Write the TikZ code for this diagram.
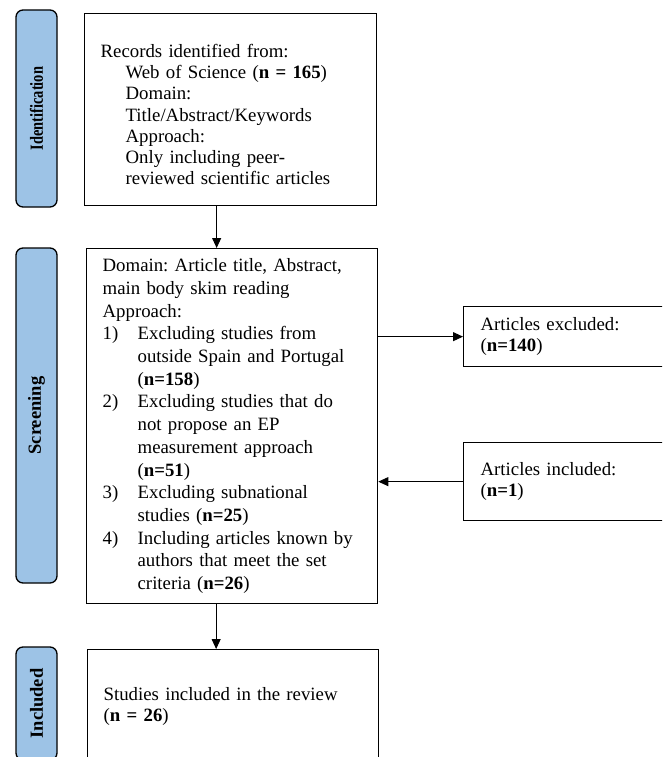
\documentclass[tikz,border=0pt]{standalone}
\usepackage{fontspec}
\setmainfont{Liberation Serif}
\usetikzlibrary{arrows.meta, calc, positioning}
\frenchspacing

\definecolor{pillblue}{HTML}{9DC3E6}
\newcommand{\listnum}[1]{\makebox[35pt][l]{#1}}
\newcommand{\listpad}{\hspace*{35pt}}
\newcommand{\subpad}{\hspace*{25pt}}

\begin{document}
\begin{tikzpicture}[x=1pt, y=-1pt,
    stage/.style={draw, line width=1.3pt, rounded corners=7pt, fill=pillblue, rotate=90,
        minimum height=41pt, inner sep=0pt, font=\fontsize{18.5}{20}\selectfont\bfseries},
    box/.style={draw, line width=1.3pt, anchor=north west, align=left, inner xsep=16pt,
        inner ysep=0pt, font=\fontsize{18.8}{21.3}\selectfont},
    arrow/.style={line width=0.9pt, -{Triangle[length=10pt, width=9pt]}}]

    \useasboundingbox (0,0) rectangle (662,757);
    \clip (0,0) rectangle (662,757);

    % stages on the left
    \node[stage, minimum width=197pt] (idstage) at (36.5,108.5) {\scalebox{0.78}[1]{Identification}};
    \node[stage, minimum width=335pt] (scstage) at (36.5,415.5) {Screening};
    \node[stage, minimum width=113pt] (instage) at (36.5,703.5) {Included};

    % main column
    \node[box, text width=260pt, minimum height=192pt, text height=23pt] (ident) at (84,13) {
        Records identified from:\\
        \subpad Web of Science (\textbf{n = 165})\\
        \subpad Domain:\\
        \subpad Title/Abstract/Keywords\\
        \subpad Approach:\\
        \subpad Only including peer-\\
        \subpad reviewed scientific articles};

    \node[box, text width=259pt, minimum height=355pt,
        font=\fontsize{18.8}{22.7}\selectfont] (screen) at (86,248) {
        Domain: Article title, Abstract,\\
        main body skim reading\\
        Approach:\\
        \listnum{1)}Excluding studies from\\
        \listpad outside Spain and Portugal\\
        \listpad (\textbf{n=158})\\
        \listnum{2)}Excluding studies that do\\
        \listpad not propose an EP\\
        \listpad measurement approach\\
        \listpad (\textbf{n=51})\\
        \listnum{3)}Excluding subnational\\
        \listpad studies (\textbf{n=25})\\
        \listnum{4)}Including articles known by\\
        \listpad authors that meet the set\\
        \listpad criteria (\textbf{n=26})};

    \node[box, text width=259pt, minimum height=113pt] (incl) at (87,649) {
        Studies included in the review\\
        (\textbf{n = 26})};

    % side boxes
    \node[box, text width=200pt, inner xsep=17pt, minimum height=60pt] (excl) at (463,306) {
        Articles excluded:\\
        (\textbf{n=140})};
    \node[box, text width=200pt, inner xsep=17pt, minimum height=78pt] (added) at (463,442) {
        Articles included:\\
        (\textbf{n=1})};

    \draw[arrow] ([xshift=-14pt]ident.south) -- ([xshift=-14pt]ident.south |- screen.north);
    \draw[arrow] ([xshift=-16pt]screen.south) -- ([xshift=-16pt]screen.south |- incl.north);
    \draw[arrow] (screen.east |- excl.west) -- (excl.west);
    \draw[arrow] (added.west) -- (added.west -| screen.east);

\end{tikzpicture}
\end{document}
